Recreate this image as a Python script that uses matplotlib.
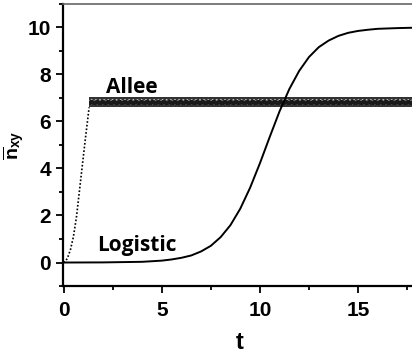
import numpy as np
import matplotlib
matplotlib.use('Agg')
import matplotlib.pyplot as plt
from matplotlib.ticker import MultipleLocator

plt.rcParams['font.family'] = 'Liberation Sans'
plt.rcParams['font.weight'] = 'bold'
plt.rcParams['mathtext.fontset'] = 'custom'
plt.rcParams['mathtext.rm'] = 'Liberation Sans:bold'
plt.rcParams['mathtext.bf'] = 'Liberation Sans:bold'
plt.rcParams['mathtext.it'] = 'Liberation Sans:bold'
plt.rcParams['hatch.linewidth'] = 0.8

# logistic growth
t_log = [0, 2, 4, 5, 5.5, 6, 6.5, 7, 7.5, 8, 8.5, 9, 9.5, 10, 10.5, 11, 11.5,
         12, 12.5, 13, 13.5, 14, 14.5, 15, 15.5, 16, 17, 18]
n_log = [0, 0.005, 0.03, 0.08, 0.13, 0.2, 0.3, 0.47, 0.71, 1.08, 1.59, 2.29,
         3.18, 4.22, 5.34, 6.43, 7.38, 8.15, 8.74, 9.16, 9.44, 9.64, 9.77,
         9.85, 9.9, 9.94, 9.97, 9.99]

# Allee: fast rise then noisy plateau
t_rise = [0, 0.1, 0.2, 0.35, 0.5, 0.65, 0.8, 0.95, 1.1, 1.2, 1.3]
n_rise = [0, 0.05, 0.2, 0.55, 1.1, 1.9, 3.0, 4.1, 5.2, 5.9, 6.6]
t_band = [1.3, 5, 10, 15, 18.5]
band_lo = [6.6, 6.6, 6.6, 6.6, 6.6]
band_hi = [7.03, 7.03, 7.03, 7.03, 7.03]
core_lo = [6.7, 6.7, 6.7, 6.7, 6.7]
core_hi = [6.93, 6.93, 6.93, 6.93, 6.93]

fig = plt.figure(figsize=(4.12, 3.54), dpi=100)
ax = fig.add_axes([0.152, 0.192, 0.86, 0.797])

ax.fill_between(t_band, band_lo, band_hi, facecolor='0.2', edgecolor='0.75',
                hatch='....', lw=0)
ax.fill_between(t_band, core_lo, core_hi, facecolor='0.1', edgecolor='0.45',
                hatch='...', lw=0)
ax.plot(t_rise, n_rise, color='k', lw=1.2, ls=(0, (1, 1.2)))
ax.plot(t_log, n_log, color='k', lw=1.4)

ax.text(3.5, 7.45, 'Allee', fontsize=15, fontweight='bold', family='Open Sans',
        ha='center', va='center')
ax.text(3.75, 0.5, 'Logistic', fontsize=15, fontweight='bold', family='Open Sans',
        ha='center', va='baseline')

ax.set_xlim(-0.05, 18.0)
ax.set_ylim(-1, 11)
ax.xaxis.set_major_locator(MultipleLocator(5))
ax.xaxis.set_minor_locator(MultipleLocator(2.5))
ax.yaxis.set_major_locator(MultipleLocator(2))
ax.yaxis.set_minor_locator(MultipleLocator(1))
ax.tick_params(which='both', direction='out', width=1.3, labelsize=15)
ax.tick_params(which='major', length=5)
ax.tick_params(which='minor', length=3)
ax.tick_params(axis='x', pad=6)
for lab in ax.get_xticklabels() + ax.get_yticklabels():
    lab.set_fontweight('bold')

for s in ['left', 'bottom']:
    ax.spines[s].set_linewidth(1.6)
ax.spines['top'].set_linewidth(1.2)
ax.spines['top'].set_color('0.4')

ax.set_xlabel('t', fontsize=17, fontweight='bold', labelpad=8)
ax.set_ylabel(r'$\overline{\mathrm{n}}_{\mathrm{xy}}$', fontsize=14, labelpad=0)

fig.savefig('out.png', dpi=100)
